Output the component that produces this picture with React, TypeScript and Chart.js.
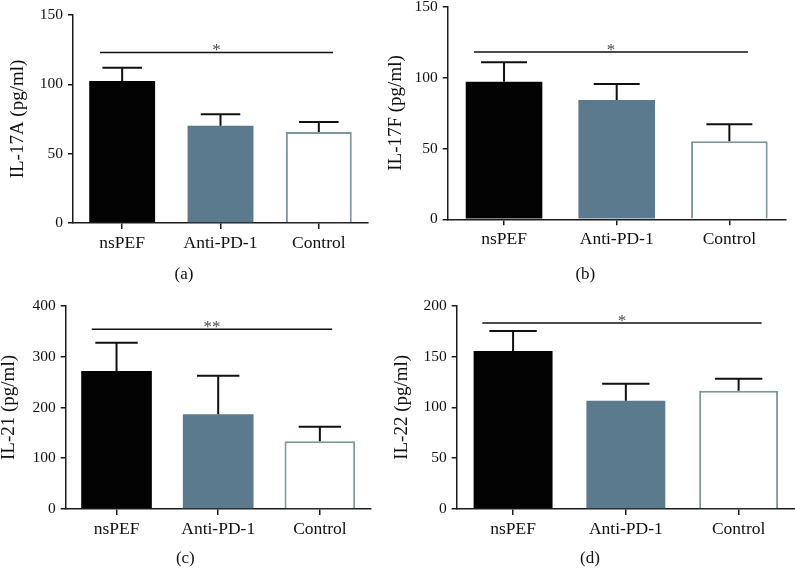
import React, { useEffect, useRef } from 'react';
import { Chart, registerables } from 'chart.js';

Chart.register(...registerables);

// ---- data ----
const categories = ['nsPEF', 'Anti-PD-1', 'Control'];

const il17aMeans = [102.4, 70.2, 65.6];
const il17aErrors = [9.6, 8.2, 7.2];

const il17fMeans = [97.1, 84.2, 55.0];
const il17fErrors = [13.7, 11.3, 12.0];

const il21Means = [272, 186.6, 133.4];
const il21Errors = [55.7, 76.1, 28.8];

const il22Means = [155.4, 106.5, 116.4];
const il22Errors = [19.7, 16.8, 11.8];

const yTitles = ['IL-17A (pg/ml)', 'IL-17F (pg/ml)', 'IL-21 (pg/ml)', 'IL-22 (pg/ml)'];
const captions = ['(a)', '(b)', '(c)', '(d)'];
const yMaxima = [150, 150, 400, 200];
const yStepSizes = [50, 50, 100, 50];
const sigLevels = [123, 118, 354, 183];
const sigStarts = [-0.225, -0.267, -0.244, -0.273];
const sigEnds = [2.144, 2.165, 2.121, 2.204];
const sigLabels = ['*', '*', '**', '*'];

const allMeans = [il17aMeans, il17fMeans, il21Means, il22Means];
const allErrors = [il17aErrors, il17fErrors, il21Errors, il22Errors];

// ---- layout / style ----
const FONT = "'Liberation Serif', 'Times New Roman', serif";
const TEXT = '#111111';
const AXIS = '#1c1c1c';
const barFills = ['#030303', '#5c7a8d', '#ffffff'];
const barBorders = ['#030303', '#5c7a8d', '#7f969b'];
const barBorderWidths = [0, 0, 2];

const panels = [
  { left: 0, top: 0, width: 385, height: 285, areaLeft: 73, areaTop: 15, areaRight: 368, areaBottom: 223, titlePad: 8.5, barPct: 0.67 },
  { left: 385, top: 0, width: 410, height: 285, areaLeft: 62.7, areaTop: 6.7, areaRight: 400.7, areaBottom: 219.3, titlePad: 1.5, barPct: 0.68 },
  { left: 0, top: 285, width: 385, height: 284, areaLeft: 65.7, areaTop: 21, areaRight: 370.7, areaBottom: 224, titlePad: 0, barPct: 0.695 },
  { left: 385, top: 285, width: 410, height: 284, areaLeft: 71.7, areaTop: 20.7, areaRight: 410, areaBottom: 224, titlePad: 7.5, barPct: 0.7 },
];

const CAPTION_SIZE = 17;
const CAPTION_LINE = CAPTION_SIZE * 1.2;

function makeErrorBarPlugin(errors: number[]) {
  return {
    id: 'errorBars',
    afterDatasetsDraw(chart: any) {
      const meta = chart.getDatasetMeta(0);
      const yScale = chart.scales.y;
      const ctx = chart.ctx;
      ctx.save();
      ctx.strokeStyle = TEXT;
      ctx.lineWidth = 2;
      meta.data.forEach((bar: any, i: number) => {
        const v = chart.data.datasets[0].data[i] as number;
        const top = yScale.getPixelForValue(v + errors[i]);
        const half = bar.width * 0.3;
        ctx.beginPath();
        ctx.moveTo(bar.x, bar.y);
        ctx.lineTo(bar.x, top);
        ctx.moveTo(bar.x - half, top);
        ctx.lineTo(bar.x + half, top);
        ctx.stroke();
      });
      ctx.restore();
    },
  };
}

function makeSigPlugin(level: number, start: number, end: number, label: string) {
  return {
    id: 'significance',
    afterDatasetsDraw(chart: any) {
      const xScale = chart.scales.x;
      const yScale = chart.scales.y;
      const ctx = chart.ctx;
      const y = yScale.getPixelForValue(level);
      const x1 = xScale.getPixelForValue(start);
      const x2 = xScale.getPixelForValue(end);
      ctx.save();
      ctx.strokeStyle = TEXT;
      ctx.lineWidth = 1.5;
      ctx.beginPath();
      ctx.moveTo(x1, y);
      ctx.lineTo(x2, y);
      ctx.stroke();
      ctx.fillStyle = '#4a4a4a';
      ctx.font = `17px ${FONT}`;
      ctx.textAlign = 'center';
      ctx.textBaseline = 'alphabetic';
      ctx.fillText(label, (x1 + x2) / 2, y + 3);
      ctx.restore();
    },
  };
}

function Panel({ index }: { index: number }) {
  const ref = useRef<HTMLCanvasElement | null>(null);
  const p = panels[index];

  useEffect(() => {
    if (!ref.current) return;
    const chart = new Chart(ref.current, {
      type: 'bar',
      data: {
        labels: categories,
        datasets: [
          {
            data: allMeans[index],
            backgroundColor: barFills,
            borderColor: barBorders,
            borderWidth: barBorderWidths,
            borderSkipped: 'bottom',
            barPercentage: p.barPct,
            categoryPercentage: 1,
          } as any,
        ],
      },
      options: {
        animation: false,
        responsive: false,
        devicePixelRatio: 1,
        layout: {
          padding: { left: 0, top: p.areaTop, right: p.width - p.areaRight, bottom: 0 },
        },
        plugins: {
          legend: { display: false },
          tooltip: { enabled: false },
          title: {
            display: true,
            position: 'bottom',
            text: captions[index],
            color: TEXT,
            font: { family: FONT, size: CAPTION_SIZE, lineHeight: 1.2, weight: 'normal' },
            padding: { top: 0, bottom: 0 },
          },
        },
        scales: {
          x: {
            offset: true,
            grid: {
              display: true,
              drawOnChartArea: false,
              drawTicks: true,
              tickLength: 6,
              offset: false,
              color: AXIS,
              lineWidth: 1.5,
            },
            border: { display: true, color: AXIS, width: 1.5 },
            ticks: { color: TEXT, font: { family: FONT, size: 17.5 }, padding: 4, maxRotation: 0 },
            afterFit: (s: any) => {
              s.height = p.height - CAPTION_LINE - p.areaBottom;
              s.paddingLeft = 0;
              s.paddingRight = 0;
            },
          },
          y: {
            min: 0,
            max: yMaxima[index],
            ticks: { stepSize: yStepSizes[index], color: TEXT, font: { family: FONT, size: 15.5 }, padding: 5 },
            grid: {
              display: true,
              drawOnChartArea: false,
              drawTicks: true,
              tickLength: 5,
              color: AXIS,
              lineWidth: 1.5,
            },
            border: { display: true, color: AXIS, width: 1.5 },
            title: {
              display: true,
              text: yTitles[index],
              color: TEXT,
              font: { family: FONT, size: 19, lineHeight: 1 },
              padding: { top: p.titlePad, bottom: 0 },
            },
            afterFit: (s: any) => {
              s.width = p.areaLeft;
              s.paddingTop = 0;
              s.paddingBottom = 0;
            },
          },
        },
      } as any,
      plugins: [
        makeErrorBarPlugin(allErrors[index]),
        makeSigPlugin(sigLevels[index], sigStarts[index], sigEnds[index], sigLabels[index]),
      ],
    });
    return () => chart.destroy();
  }, [index]);

  return (
    <canvas
      ref={ref}
      width={p.width}
      height={p.height}
      style={{ position: 'absolute', left: p.left, top: p.top, width: p.width, height: p.height }}
    />
  );
}

export default function App() {
  return (
    <div style={{ position: 'absolute', left: 0, top: 0, width: 795, height: 569, background: '#ffffff', overflow: 'hidden' }}>
      {panels.map((_, i) => (
        <Panel key={i} index={i} />
      ))}
    </div>
  );
}
